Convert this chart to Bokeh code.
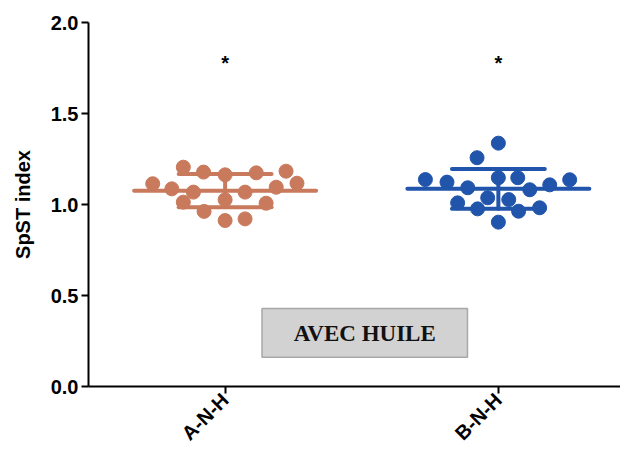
import numpy as np
from bokeh.plotting import figure
from bokeh.models import Range1d, FixedTicker
from bokeh.core.properties import value
from bokeh.embed import file_html
from bokeh.resources import INLINE

# ---- data ----
groups = ["A-N-H", "B-N-H"]
group_pos = [1, 2]
colors = ["#C97A5C", "#2155AB"]

a_values = [1.205, 1.178, 1.163, 1.174, 1.183, 1.114, 1.086, 1.068, 1.068,
            1.095, 1.117, 1.013, 1.026, 1.007, 0.962, 0.912, 0.921]
a_jitter = [-0.153, -0.079, 0.0, 0.114, 0.223, -0.265, -0.195, -0.116, 0.073,
            0.187, 0.263, -0.153, 0.0, 0.150, -0.077, 0.0, 0.073]

b_values = [1.337, 1.257, 1.137, 1.123, 1.092, 1.147, 1.147, 1.081, 1.108,
            1.136, 1.037, 1.027, 1.009, 0.976, 0.963, 0.982, 0.903]
b_jitter = [0.0, -0.078, -0.267, -0.188, -0.112, 0.0, 0.071, 0.115, 0.188,
            0.261, -0.039, 0.038, -0.149, -0.076, 0.074, 0.151, 0.0]

sig_labels = ["*", "*"]
sig_y = [1.78, 1.78]

y_ticks = [0.0, 0.5, 1.0, 1.5, 2.0]
box_text = "AVEC HUILE"

# ---- figure ----
p = figure(width=620, height=457, output_backend="svg", toolbar_location=None,
           x_range=Range1d(0.5, 2.447), y_range=Range1d(0, 2.0),
           min_border_left=88, min_border_top=22, min_border_bottom=71,
           min_border_right=0)
p.outline_line_color = None
p.grid.visible = False
p.background_fill_color = "white"
p.border_fill_color = "white"

series = [(a_values, a_jitter), (b_values, b_jitter)]
for (vals, jit), xpos, col in zip(series, group_pos, colors):
    vals = np.array(vals)
    m = vals.mean()
    sd = vals.std(ddof=1)
    xs = xpos + np.array(jit)
    p.segment(x0=[xpos - 0.333], x1=[xpos + 0.333], y0=[m], y1=[m],
              line_color=col, line_width=4, line_cap="round")
    p.segment(x0=[xpos - 0.17, xpos - 0.17], x1=[xpos + 0.17, xpos + 0.17],
              y0=[m + sd, m - sd], y1=[m + sd, m - sd],
              line_color=col, line_width=4, line_cap="round")
    p.segment(x0=[xpos], x1=[xpos], y0=[m - sd], y1=[m + sd],
              line_color=col, line_width=4, line_cap="round")
    p.scatter(x=xs, y=vals, size=14, fill_color=col, line_color=col)

# significance asterisks
p.text(x=group_pos, y=sig_y, text=sig_labels, text_font=value("Liberation Sans"),
       text_font_style="bold", text_font_size="20px", text_align="center",
       text_baseline="middle", text_color="black")

# box annotation
p.quad(left=[1.135], right=[1.887], bottom=[0.161], top=[0.429],
       fill_color="#d2d2d2", line_color="#a8a8a8", line_width=1.5)
p.text(x=[1.511], y=[0.292], text=[box_text], text_font=value("Liberation Serif"),
       text_font_style="bold", text_font_size="23px", text_align="center",
       text_baseline="middle", text_color="#111111")

# axes
p.yaxis.ticker = FixedTicker(ticks=y_ticks)
p.yaxis.major_label_overrides = {t: f"{t:.1f}" for t in y_ticks}
p.yaxis.axis_label = "SpST index"
p.xaxis.ticker = FixedTicker(ticks=group_pos)
p.xaxis.major_label_overrides = {g: n for g, n in zip(group_pos, groups)}
p.xaxis.major_label_orientation = np.pi / 4

for ax in (p.xaxis[0], p.yaxis[0]):
    ax.axis_line_width = 2
    ax.axis_line_color = "black"
    ax.major_tick_line_width = 2
    ax.major_tick_line_color = "black"
    ax.major_tick_in = 0
    ax.major_tick_out = 7
    ax.minor_tick_line_color = None
    ax.major_label_text_font = "Liberation Sans"
    ax.major_label_text_font_style = "bold"
    ax.major_label_text_font_size = "20px"
    ax.major_label_text_color = "black"
    ax.axis_label_text_font = "Liberation Sans"
    ax.axis_label_text_font_style = "bold"
    ax.axis_label_text_font_size = "20px"
    ax.axis_label_text_color = "black"
p.xaxis.major_label_text_font_size = "20px"
p.xaxis.major_label_standoff = 3
p.yaxis.major_label_standoff = 3
p.yaxis.axis_label_standoff = 14

open("out.html", "w").write(file_html(p, INLINE))
